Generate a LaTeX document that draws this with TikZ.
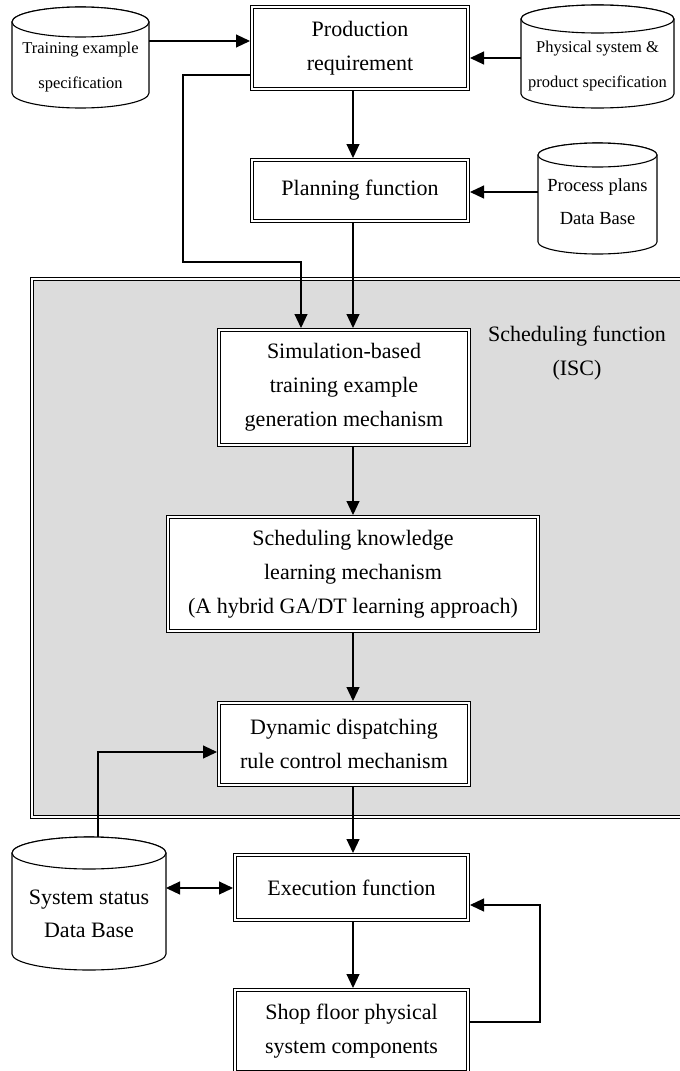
\documentclass[tikz,border=0pt]{standalone}
\usepackage{fontspec}
\setmainfont{Liberation Serif}
\usetikzlibrary{arrows.meta}
\definecolor{iscgray}{RGB}{220,220,220}
\tikzset{
  box/.style={draw=black, line width=1.1pt, double=white, double distance=2pt,
    fill=white, inner sep=0pt, outer sep=2.1pt, align=center,
    font=\fontsize{22}{34}\selectfont},
  region/.style={draw=black, line width=0.9pt, double=white, double distance=1.8pt,
    fill=iscgray, inner sep=0pt},
  cylshape/.style={inner sep=0pt, outer sep=0pt, draw=none},
  cylline/.style={draw=black, line width=1.1pt, fill=white},
  cyltext/.style={inner sep=0pt, align=center},
  plain/.style={inner sep=0pt, align=center, font=\fontsize{22}{34}\selectfont},
  arr/.style={draw=black, line width=1.1pt, -{Triangle[length=14pt,width=13pt]}},
  darr/.style={draw=black, line width=1.1pt, {Triangle[length=14pt,width=13pt]}-{Triangle[length=14pt,width=13pt]}},
  link/.style={draw=black, line width=1.1pt},
  smallfont/.style={font=\fontsize{16.5}{35}\selectfont},
  midfont/.style={font=\fontsize{18.5}{33}\selectfont},
  bigfont/.style={font=\fontsize{22}{33}\selectfont},
}
\newcommand\dbcyl[9]{%
  \pgfmathsetmacro\cylcx{(#2+#3)/2}%
  \pgfmathsetmacro\cylrx{(#3-#2)/2}%
  \pgfmathsetmacro\cylw{#3-#2}%
  \pgfmathsetmacro\cylh{#5-#4}%
  \pgfmathsetmacro\cylcy{-(#4+#5)/2}%
  \node[cylshape, minimum width=\cylw pt, minimum height=\cylh pt] (#1) at (\cylcx,\cylcy) {};
  \draw[cylline] (#2,-#4-#6) -- (#2,-#5+#6)
     arc[start angle=180, end angle=360, x radius=\cylrx pt, y radius=#6pt]
     -- (#3,-#4-#6)
     arc[start angle=0, end angle=180, x radius=\cylrx pt, y radius=#6pt] -- cycle;
  \draw[cylline] (\cylcx,-#4-#6) ellipse[x radius=\cylrx pt, y radius=#6pt];
  \node[cyltext, #8] (#1-t) at (\cylcx,-#7) {#9};
}
\begin{document}
\begin{tikzpicture}[x=1pt,y=1pt]
\useasboundingbox (0,0) rectangle (680,-1071);

% scheduling function region
\node[region, minimum width=688.2pt, minimum height=538.4pt] (isc) at (375.9,-548) {};
\node[plain] (isclabel) at (577,-353) {Scheduling function\\(ISC)};

% boxes
\node[box, minimum width=215.8pt, minimum height=81.8pt] (prod) at (360,-48) {Production\\requirement};
\node[box, minimum width=215.8pt, minimum height=60.8pt] (plan) at (360,-190.5) {Planning function};
\node[box, minimum width=249.8pt, minimum height=114.8pt] (sim) at (344,-387.5) {Simulation-based\\training example\\generation mechanism};
\node[box, minimum width=369.8pt, minimum height=113.8pt] (know) at (353,-574) {Scheduling knowledge\\learning mechanism\\(A hybrid GA/DT learning approach)};
\node[box, minimum width=249.8pt, minimum height=81.8pt] (dyn) at (344,-744) {Dynamic dispatching\\rule control mechanism};
\node[box, minimum width=232.8pt, minimum height=64.8pt] (exec) at (351.5,-887.5) {Execution function};
\node[box, minimum width=232.8pt, minimum height=81.8pt] (shop) at (351.5,-1031) {Shop floor physical\\system components};

% cylinders
\dbcyl{train}{12}{149}{7}{108}{15}{67}{smallfont}{Training example\\specification}
\dbcyl{phys}{521}{674}{5}{108}{14}{66}{smallfont}{Physical system \&\\product specification}
\dbcyl{proc}{538}{657}{143}{254}{12}{201.5}{midfont}{Process plans\\Data Base}
\dbcyl{sys}{12}{166}{837}{970}{16}{913.5}{bigfont}{System status\\Data Base}

% helper coordinates
\coordinate (col) at (353,0);
\coordinate (a1) at (0,-41);
\coordinate (a2) at (0,-58);
\coordinate (a3) at (0,-75);
\coordinate (a4) at (0,-192);
\coordinate (k1) at (183,-262);
\coordinate (k2) at (301,-262);
\coordinate (k3) at (98,-752);
\coordinate (a5) at (0,-888);
\coordinate (k4) at (540,-1022);
\coordinate (k5) at (540,-905);

% connectors
\draw[arr] (train.east |- a1) -- (prod.west |- a1);
\draw[arr] (phys.west |- a2) -- (prod.east |- a2);
\draw[arr] (prod.south -| col) -- (plan.north -| col);
\draw[arr] (proc.west |- a4) -- (plan.east |- a4);
\draw[arr] (plan.south -| col) -- (sim.north -| col);
\draw[arr] (prod.west |- a3) -| (k1) -- (k2) -- (k2 |- sim.north);
\draw[arr] (sim.south -| col) -- (know.north -| col);
\draw[arr] (know.south -| col) -- (dyn.north -| col);
\draw[arr] (sys.north -| k3) -- (k3) -- (dyn.west |- k3);
\draw[arr] (dyn.south -| col) -- (exec.north -| col);
\draw[darr] (sys.east |- a5) -- (exec.west |- a5);
\draw[arr] (exec.south -| col) -- (shop.north -| col);
\draw[arr] (shop.east |- k4) -- (k4) -- (k5) -- (exec.east |- k5);
\end{tikzpicture}
\end{document}
